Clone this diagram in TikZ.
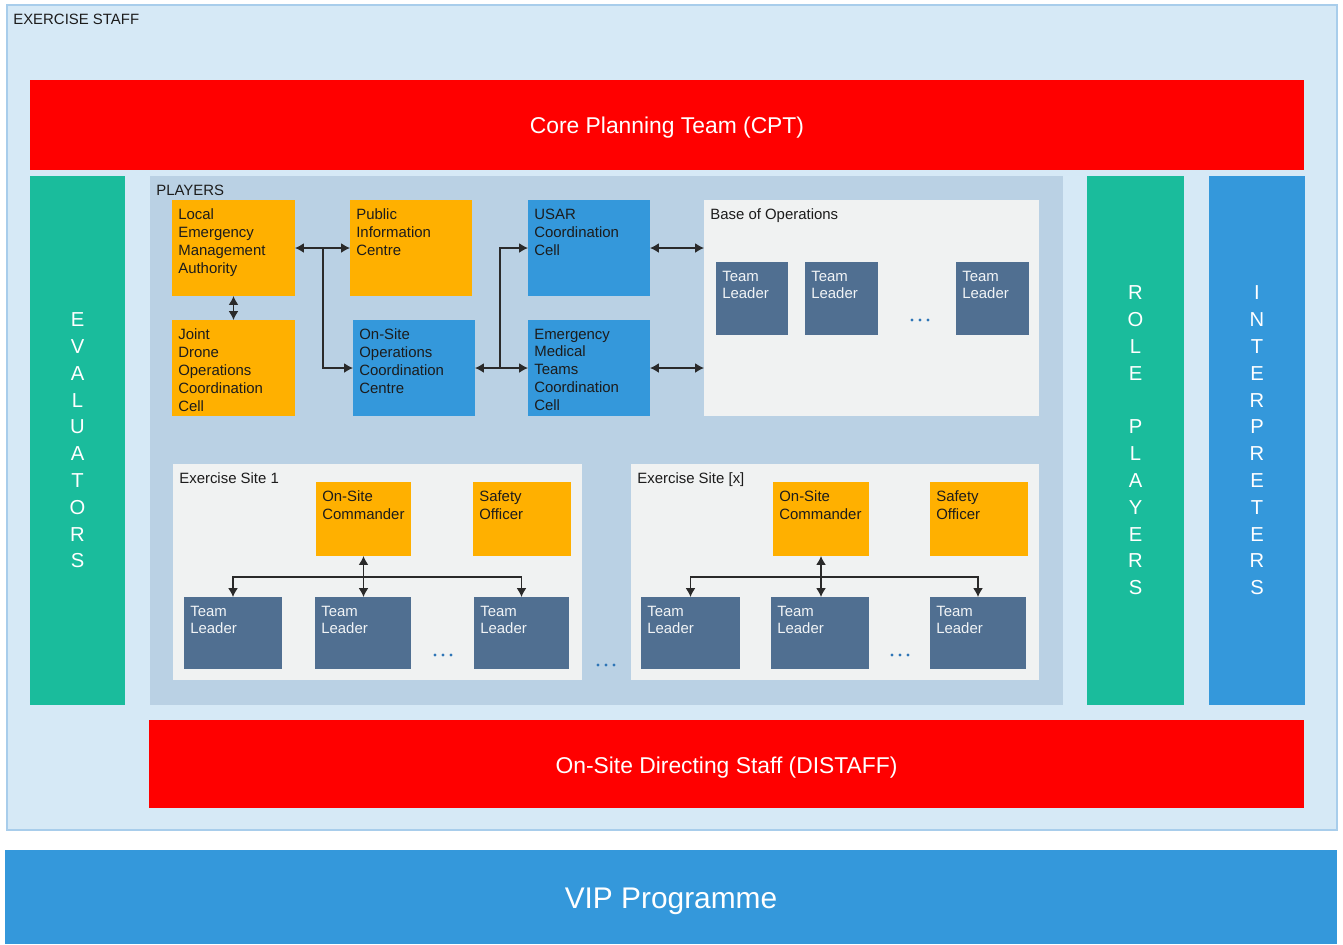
\documentclass[tikz,border=0pt]{standalone}
\usepackage{fontspec}
\setmainfont{Liberation Sans}
\usetikzlibrary{positioning,fit,arrows.meta}

\definecolor{staffbg}{HTML}{D6E9F6}
\definecolor{staffline}{HTML}{A8CDEB}
\definecolor{planred}{HTML}{FF0000}
\definecolor{sideteal}{HTML}{1ABC9C}
\definecolor{cellblue}{HTML}{3498DB}
\definecolor{cellorange}{HTML}{FFB000}
\definecolor{playersbg}{HTML}{BAD1E4}
\definecolor{sitebg}{HTML}{F0F2F2}
\definecolor{leaderslate}{HTML}{506F91}
\definecolor{dotblue}{HTML}{2E75B6}
\definecolor{textdark}{HTML}{1C1C1C}
\definecolor{linkdark}{HTML}{2A2A2A}

\newcommand{\unitfont}{\fontsize{8.5}{10.2}\selectfont}

\begin{document}
\begin{tikzpicture}[x=0.02cm, y=-0.02cm,
    >={Latex[length=5pt,width=5.5pt]},
    unit/.style={inner sep=0pt, outer sep=0pt},
    boxtext/.style={anchor=north west, align=left, inner xsep=3.4pt, inner ysep=4.8pt, font=\unitfont, text=textdark},
    leadtext/.style={boxtext, text=white!92!leaderslate},
    midtext/.style={anchor=center, align=center, text=white},
    bigtext/.style={midtext, yshift=-1.6pt, font=\fontsize{13}{15}\selectfont},
    sidetext/.style={midtext, font=\fontsize{11.5}{15.25}\selectfont},
    link/.style={draw=linkdark, line width=0.75pt}
  ]
  \useasboundingbox (0,0) rectangle (1343,944);

  % outer frame
  \node[unit, fill=staffbg, draw=staffline, line width=1.2pt, fit={(7,5) (1337,830)},
        label={[boxtext]north west:EXERCISE STAFF}] (staff) {};

  % red bars
  \node[unit, fill=planred, fit={(30,80) (1304,170)},
        label={[bigtext]center:Core Planning Team (CPT)}] (cpt) {};
  \node[unit, fill=planred, fit={(149,720) (1304,808)},
        label={[bigtext, yshift=-0.6pt]center:On-Site Directing Staff (DISTAFF)}] (distaff) {};

  % side columns
  \node[unit, fill=sideteal, fit={(30,176) (125,705)},
        label={[sidetext]center:{E\\V\\A\\L\\U\\A\\T\\O\\R\\S}}] (evaluators) {};
  \node[unit, fill=sideteal, fit={(1087,176) (1184,705)},
        label={[sidetext]center:{R\\O\\L\\E\\[15.25pt]P\\L\\A\\Y\\E\\R\\S}}] (roleplayers) {};
  \node[unit, fill=cellblue, fit={(1209,176) (1305,705)},
        label={[sidetext]center:{I\\N\\T\\E\\R\\P\\R\\E\\T\\E\\R\\S}}] (interpreters) {};

  % players
  \node[unit, fill=playersbg, fit={(150,176) (1063,705)},
        label={[boxtext]north west:PLAYERS}] (players) {};

  \node[unit, fill=cellorange, fit={(172,200) (295,296)},
        label={[boxtext]north west:{Local\\Emergency\\Management\\Authority}}] (lema) {};
  \node[unit, fill=cellorange, fit={(350,200) (472,296)},
        label={[boxtext]north west:{Public\\Information\\Centre}}] (pic) {};
  \node[unit, fill=cellorange, fit={(172,320) (295,416)},
        label={[boxtext]north west:{Joint\\Drone\\Operations\\Coordination\\Cell}}] (jdocc) {};
  \node[unit, fill=cellblue, fit={(353,320) (475,416)},
        label={[boxtext]north west:{On-Site\\Operations\\Coordination\\Centre}}] (osocc) {};
  \node[unit, fill=cellblue, fit={(528,200) (650,296)},
        label={[boxtext]north west:{USAR\\Coordination\\Cell}}] (usar) {};
  \node[unit, fill=cellblue, fit={(528,320) (650,416)},
        label={[boxtext]north west:{Emergency\\Medical\\Teams\\Coordination\\Cell}}] (emt) {};

  % base of operations
  \node[unit, fill=sitebg, fit={(704,200) (1039,416)},
        label={[boxtext]north west:Base of Operations}] (base) {};
  \node[unit, fill=leaderslate, fit={(716,262) (788,335)},
        label={[leadtext]north west:{Team\\Leader}}] (basetl1) {};
  \node[unit, fill=leaderslate, fit={(805,262) (878,335)},
        label={[leadtext]north west:{Team\\Leader}}] (basetl2) {};
  \node[unit, fill=leaderslate, fit={(956,262) (1029,335)},
        label={[leadtext]north west:{Team\\Leader}}] (basetl3) {};
  \foreach \dx in {-8,0,8}
    \fill[dotblue] (920+\dx,320) circle (1.7);

  % exercise site 1
  \node[unit, fill=sitebg, fit={(173,464) (582,680)},
        label={[boxtext]north west:Exercise Site 1}] (site1) {};
  \node[unit, fill=cellorange, fit={(316,482) (411,556)},
        label={[boxtext]north west:{On-Site\\Commander}}] (osc1) {};
  \node[unit, fill=cellorange, fit={(473,482) (571,556)},
        label={[boxtext]north west:{Safety\\Officer}}] (safety1) {};
  \node[unit, fill=leaderslate, fit={(184,597) (282,669)},
        label={[leadtext]north west:{Team\\Leader}}] (tl11) {};
  \node[unit, fill=leaderslate, fit={(315,597) (411,669)},
        label={[leadtext]north west:{Team\\Leader}}] (tl12) {};
  \node[unit, fill=leaderslate, fit={(474,597) (569,669)},
        label={[leadtext]north west:{Team\\Leader}}] (tl13) {};
  \foreach \dx in {-8,0,8}
    \fill[dotblue] (443+\dx,655) circle (1.7);

  % exercise site x
  \node[unit, fill=sitebg, fit={(631,464) (1039,680)},
        label={[boxtext]north west:Exercise Site [x]}] (sitex) {};
  \node[unit, fill=cellorange, fit={(773,482) (869,556)},
        label={[boxtext]north west:{On-Site\\Commander}}] (oscx) {};
  \node[unit, fill=cellorange, fit={(930,482) (1028,556)},
        label={[boxtext]north west:{Safety\\Officer}}] (safetyx) {};
  \node[unit, fill=leaderslate, fit={(641,597) (740,669)},
        label={[leadtext]north west:{Team\\Leader}}] (tlx1) {};
  \node[unit, fill=leaderslate, fit={(771,597) (869,669)},
        label={[leadtext]north west:{Team\\Leader}}] (tlx2) {};
  \node[unit, fill=leaderslate, fit={(930,597) (1026,669)},
        label={[leadtext]north west:{Team\\Leader}}] (tlx3) {};
  \foreach \dx in {-8,0,8}
    \fill[dotblue] (900+\dx,655) circle (1.7);

  % dots between sites
  \foreach \dx in {-8,0,8}
    \fill[dotblue] (606+\dx,665) circle (1.7);

  % VIP
  \node[unit, fill=cellblue, fit={(5,850) (1337,944)},
        label={[midtext, yshift=-2.2pt, font=\fontsize{17}{20}\selectfont]center:VIP Programme}] (vip) {};

  % connectors, players
  \coordinate (lemasplit) at (323,248);
  \coordinate (osoccsplit) at (500,368);
  \draw[link, <->] (lema) -- (pic);
  \draw[link, ->] (lemasplit) |- (osocc.west);
  \draw[link, <->] (lema) -- (jdocc);
  \draw[link, ->] (osoccsplit) -- (osocc.east);
  \draw[link, ->] (osoccsplit) |- (usar.west);
  \draw[link, ->] (osoccsplit) -- (emt.west);
  \draw[link, <->] (usar.east) -- (usar.east -| base.west);
  \draw[link, <->] (emt.east) -- (emt.east -| base.west);

  % connectors, sites
  \coordinate (site1bar) at (363,577);
  \draw[link, <->] (osc1.south) -- (osc1.south |- tl12.north);
  \draw[link, ->] (site1bar) -| (tl11.north);
  \draw[link, ->] (site1bar) -| (tl13.north);

  \coordinate (sitexbar) at (821,577);
  \draw[link, <->] (oscx.south) -- (oscx.south |- tlx2.north);
  \draw[link, ->] (sitexbar) -| (tlx1.north);
  \draw[link, ->] (sitexbar) -| (tlx3.north);
\end{tikzpicture}
\end{document}
